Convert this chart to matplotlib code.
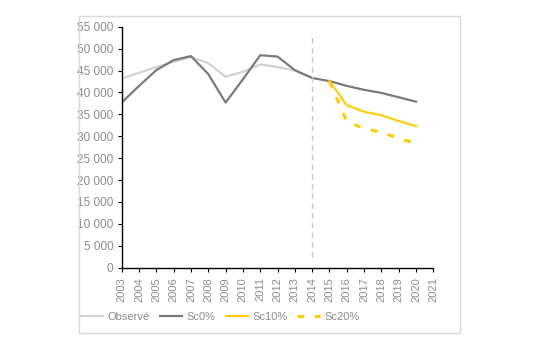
import matplotlib
matplotlib.use("Agg")
import matplotlib.pyplot as plt
from matplotlib.patches import Rectangle
from matplotlib.ticker import FuncFormatter, MultipleLocator

plt.rcParams["font.family"] = ["Liberation Sans", "DejaVu Sans"]

# séries
years_obs = [2003, 2004, 2005, 2006, 2007, 2008, 2009, 2010, 2011, 2012, 2013, 2014]
observe = [43200, 44500, 45800, 47000, 48100, 46700, 43600, 44700, 46400, 45800, 45000, 43300]

years_sc0 = [2003, 2004, 2005, 2006, 2007, 2008, 2009, 2010, 2011, 2012, 2013, 2014,
             2015, 2016, 2017, 2018, 2019, 2020]
sc0 = [37700, 41500, 45100, 47400, 48300, 44200, 37700, 43000, 48500, 48200, 45100, 43300,
       42600, 41500, 40600, 39900, 38900, 37900]

years_sc = [2015, 2016, 2017, 2018, 2019, 2020]
sc10 = [42600, 37100, 35600, 34800, 33500, 32300]
sc20 = [42600, 33300, 31800, 30900, 29500, 28400]

# trait vertical de séparation
sep_year = 2014
sep_range = [2500, 53600]

GREY_TXT = "#8c8c8c"
YELLOW = "#FFCC00"

fig = plt.figure(figsize=(5.41, 3.43), dpi=100)
ax = fig.add_axes([0.225, 0.2195, 0.576, 0.7025])

ax.plot(years_obs, observe, color="#d3d3d3", lw=1.6, label="Observé")
ax.plot(years_sc0, sc0, color="#7a7a7a", lw=1.6, label="Sc0%")
ax.plot(years_sc, sc10, color=YELLOW, lw=1.5, label="Sc10%")
ax.plot(years_sc, sc20, color=YELLOW, lw=2.2, dashes=(2.2, 3.5), label="Sc20%")
ax.plot([sep_year, sep_year], sep_range, color="#c8c8c8", lw=1.0, dashes=(4, 3))

ax.set_xlim(2003, 2021)
ax.set_ylim(0, 55000)
ax.xaxis.set_major_locator(MultipleLocator(1))
ax.yaxis.set_major_locator(MultipleLocator(5000))
ax.yaxis.set_major_formatter(FuncFormatter(lambda v, p: f"{int(v):,}".replace(",", " ")))
ax.tick_params(axis="x", labelrotation=90, length=3, color="black", labelcolor=GREY_TXT,
               labelsize=8, pad=4)
ax.tick_params(axis="y", length=3, color="black", labelcolor=GREY_TXT, labelsize=8.5, pad=3)
for s in ["top", "right"]:
    ax.spines[s].set_visible(False)
for s in ["left", "bottom"]:
    ax.spines[s].set_color("black")
    ax.spines[s].set_linewidth(1.0)

# cadre gris autour du graphique
fig.patches.append(Rectangle((0.146, 0.029), 0.704, 0.924, transform=fig.transFigure,
                             fill=False, edgecolor="#d9d9d9", lw=1.0))

handles, labels = ax.get_legend_handles_labels()
leg = fig.legend(handles, labels, ncol=4, loc="center", bbox_to_anchor=(0.407, 0.076),
                 frameon=False, fontsize=8, handlelength=2.0, handletextpad=0.4,
                 columnspacing=0.9)
for t in leg.get_texts():
    t.set_color(GREY_TXT)

fig.savefig("out.png", dpi=100)
